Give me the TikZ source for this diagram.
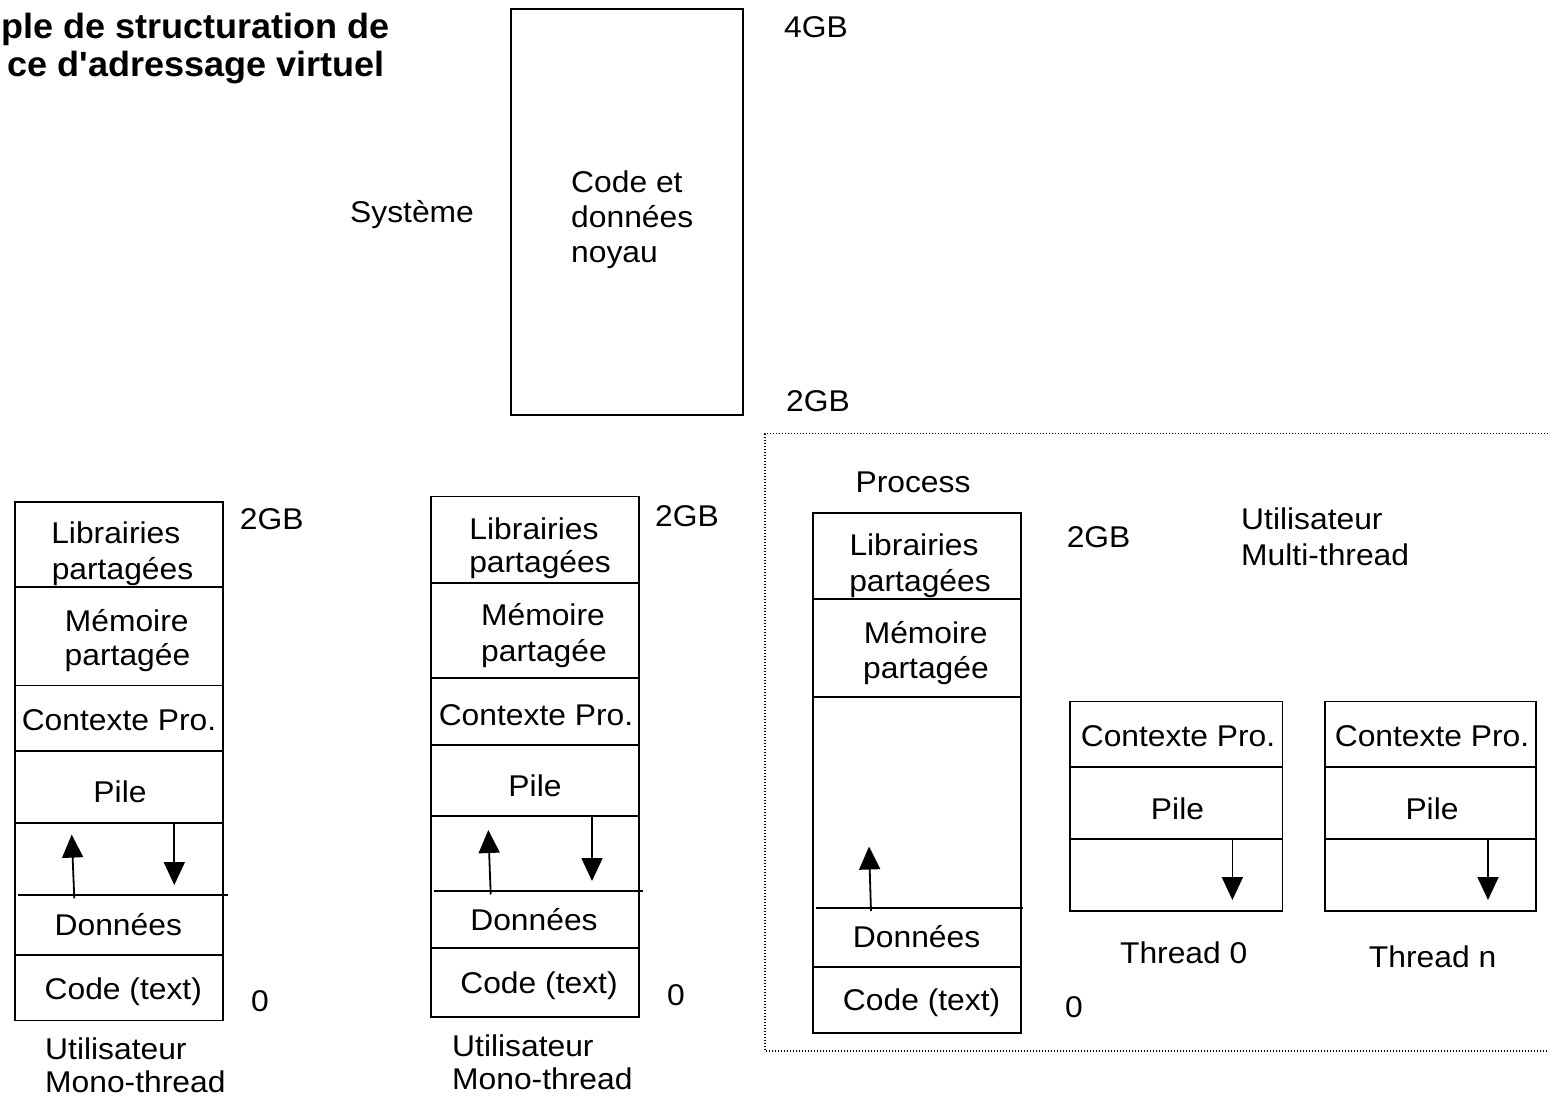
\documentclass[tikz,border=0pt]{standalone}
\usepackage{fontspec}
\setmainfont{Liberation Sans}[Ligatures=TeXOff]
\usetikzlibrary{arrows.meta}
\begin{document}
\begin{tikzpicture}[x=1pt,y=-1pt,
  lbl/.style={font=\fontsize{30}{36}\selectfont, inner sep=0pt, text height=22pt, text depth=1.5pt, xscale=1.06},
  ttl/.style={font=\fontsize{35}{40}\selectfont\bfseries, inner sep=0pt, xscale=1.03},
  frame/.style={line width=1.8pt},
  arr/.style={line width=1.8pt, -{Triangle[length=23pt,width=21pt]}},
  dots/.style={line width=1.4pt, dash pattern=on 1.4pt off 1.6pt}
]
\useasboundingbox (0,0) rectangle (1548,1097);

% title (clipped at the left in the reference)
\node[ttl, anchor=base east] (t1) at (390,38.5) {ple de structuration de};
\node[ttl, anchor=base east] (t2) at (385,77) {ce d'adressage virtuel};

% system box
\draw[frame] (511,9) rectangle (743,415);
\node[lbl] (sys) at (412,212) {Système};
\node[lbl, anchor=west] (k1) at (571,182) {Code et};
\node[lbl, anchor=west] (k2) at (571,217) {données};
\node[lbl, anchor=west] (k3) at (571,252) {noyau};
\node[lbl] (g4) at (816,27) {4GB};
\node[lbl] (g2top) at (818,401) {2GB};

% dotted region
\draw[dots] (1560,433.6) -- (765,433.6) -- (765,1051) -- (1560,1051);

% ---------- column 1 ----------
\draw[frame] (15,501.6) rectangle (222.7,1020.4);
\draw[frame] (15,586.8) -- (222.7,586.8);
\draw[frame] (15,685.5) -- (222.7,685.5);
\draw[frame] (15,751.3) -- (222.7,751.3);
\draw[frame] (15,823) -- (222.7,823);
\draw[frame] (18.3,894.6) -- (227.7,894.6);
\draw[frame] (15,954.6) -- (222.7,954.6);
\node[lbl] (a1) at (115.8,533.4) {Librairies};
\node[lbl] (a2) at (122.5,569.4) {partagées};
\node[lbl] (a3) at (126.7,621.6) {Mémoire};
\node[lbl] (a4) at (127.5,655.7) {partagée};
\node[lbl] (a5) at (119,720) {Contexte Pro.};
\node[lbl] (a6) at (120,792) {Pile};
\node[lbl] (a7) at (118.3,925.5) {Données};
\node[lbl] (a8) at (123.3,989.4) {Code (text)};
\node[lbl] (a9) at (260,1001) {0};
\node[lbl] (a10) at (271.7,519) {2GB};
\node[lbl, anchor=west] (a11) at (45,1049.4) {Utilisateur};
\node[lbl, anchor=west] (a12) at (45,1082.3) {Mono-thread};
\coordinate (au1s) at (74.3,898.4);
\coordinate (au1e) at (71.7,834.6);
\coordinate (ad1s) at (174.3,823);
\coordinate (ad1e) at (174.3,885);
\draw[arr] (au1s) -- (au1e);
\draw[arr] (ad1s) -- (ad1e);

% ---------- column 2 ----------
\draw[frame] (431,496.5) rectangle (639,1017);
\draw[frame] (431,583) -- (639,583);
\draw[frame] (431,678) -- (639,678);
\draw[frame] (431,745) -- (639,745);
\draw[frame] (431,816) -- (639,816);
\draw[frame] (434,891) -- (643,891);
\draw[frame] (431,948) -- (639,948);
\node[lbl] (b1) at (534,529) {Librairies};
\node[lbl] (b2) at (540,562.5) {partagées};
\node[lbl] (b3) at (543,615.5) {Mémoire};
\node[lbl] (b4) at (544,651) {partagée};
\node[lbl] (b5) at (536,715) {Contexte Pro.};
\node[lbl] (b6) at (535,786.5) {Pile};
\node[lbl] (b7) at (534,920) {Données};
\node[lbl] (b8) at (539,983) {Code (text)};
\node[lbl] (b9) at (676,995) {0};
\node[lbl] (b10) at (687,516) {2GB};
\node[lbl, anchor=west] (b11) at (452,1046) {Utilisateur};
\node[lbl, anchor=west] (b12) at (452,1079) {Mono-thread};
\coordinate (bu1s) at (490.7,894.5);
\coordinate (bu1e) at (488.3,830);
\coordinate (bd1s) at (592,816);
\coordinate (bd1e) at (592,881);
\draw[arr] (bu1s) -- (bu1e);
\draw[arr] (bd1s) -- (bd1e);

% ---------- column 3 (process) ----------
\node[lbl] (process) at (913,482) {Process};
\draw[frame] (812.6,513) rectangle (1020.7,1033);
\draw[frame] (812.6,599) -- (1020.7,599);
\draw[frame] (812.6,697) -- (1020.7,697);
\draw[frame] (816,907.7) -- (1023,907.7);
\draw[frame] (812.6,967) -- (1020.7,967);
\node[lbl] (c1) at (914,545) {Librairies};
\node[lbl] (c2) at (920,581) {partagées};
\node[lbl] (c3) at (925.6,633) {Mémoire};
\node[lbl] (c4) at (926,668) {partagée};
\node[lbl] (c7) at (916.6,937) {Données};
\node[lbl] (c8) at (921.6,1000.5) {Code (text)};
\node[lbl] (c9) at (1074,1007) {0};
\node[lbl] (c10) at (1098.6,537) {2GB};
\node[lbl, anchor=west] (c11) at (1241,519) {Utilisateur};
\node[lbl, anchor=west] (c12) at (1241,555) {Multi-thread};
\coordinate (cu1s) at (871,911);
\coordinate (cu1e) at (869,846.5);
\draw[arr] (cu1s) -- (cu1e);

% ---------- thread 0 ----------
\draw[frame] (1070,701.4) rectangle (1282.5,911);
\draw[frame] (1070,767) -- (1282.5,767);
\draw[frame] (1070,839) -- (1282.5,839);
\node[lbl] (d1) at (1178,736) {Contexte Pro.};
\node[lbl] (d2) at (1177.5,809.5) {Pile};
\node[lbl] (d3) at (1183.7,953.7) {Thread 0};
\coordinate (dd1s) at (1232.4,839);
\coordinate (dd1e) at (1232.4,900);
\draw[arr] (dd1s) -- (dd1e);

% ---------- thread n ----------
\draw[frame] (1325,701.4) rectangle (1536,911);
\draw[frame] (1325,767) -- (1536,767);
\draw[frame] (1325,839) -- (1536,839);
\node[lbl] (e1) at (1432,736) {Contexte Pro.};
\node[lbl] (e2) at (1432,809.5) {Pile};
\node[lbl] (e3) at (1432.6,956.8) {Thread n};
\coordinate (ed1s) at (1488,839);
\coordinate (ed1e) at (1488,900);
\draw[arr] (ed1s) -- (ed1e);
\end{tikzpicture}
\end{document}
